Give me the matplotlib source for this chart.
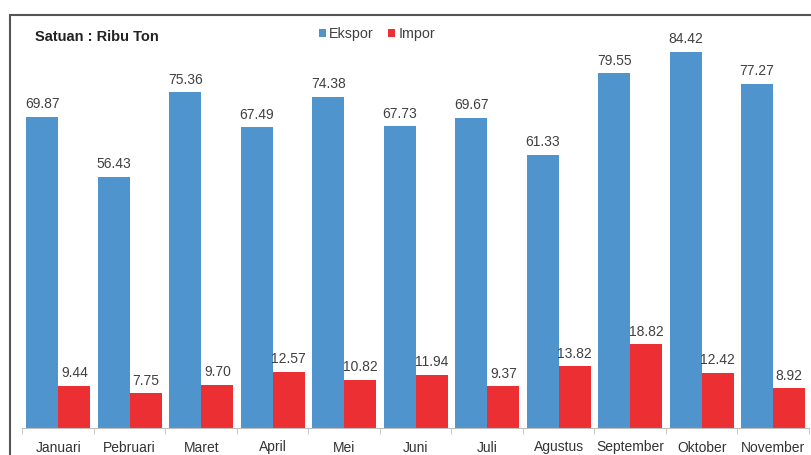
import matplotlib
matplotlib.use("Agg")
import matplotlib.pyplot as plt
import numpy as np
from matplotlib.patches import Rectangle

plt.rcParams["font.family"] = ["Liberation Sans", "DejaVu Sans"]

bulan = ["Januari", "Pebruari", "Maret", "April", "Mei", "Juni", "Juli",
         "Agustus", "September", "Oktober", "November"]
ekspor = [69.87, 56.43, 75.36, 67.49, 74.38, 67.73, 69.67, 61.33, 79.55, 84.42, 77.27]
impor = [9.44, 7.75, 9.70, 12.57, 10.82, 11.94, 9.37, 13.82, 18.82, 12.42, 8.92]

BLUE = "#4F94CD"
RED = "#EB2F33"

fig = plt.figure(figsize=(8.12, 4.55), dpi=100)
ax = fig.add_axes([22.5 / 812, 27 / 455, (809 - 22.5) / 812, 410 / 455])

x = np.arange(len(bulan))
w = 0.45
b1 = ax.bar(x - w / 2, ekspor, w, color=BLUE, label="Ekspor")
b2 = ax.bar(x + w / 2, impor, w, color=RED, label="Impor")

for bars, vals in ((b1, ekspor), (b2, impor)):
    for r, v in zip(bars, vals):
        ax.annotate(f"{v:.2f}", (r.get_x() + r.get_width() / 2, v),
                    xytext=(0, 4), textcoords="offset points",
                    ha="center", va="bottom", fontsize=10, color="#404040")

ax.set_xlim(-0.5, len(bulan) - 0.5)
ax.set_ylim(0, 92)
ax.set_yticks([])
ax.set_xticks(x)
ax.set_xticklabels(bulan, fontsize=10, color="#333333")
ax.tick_params(axis="x", which="major", length=0, pad=9)
ax.set_xticks(np.arange(-0.5, len(bulan), 1), minor=True)
ax.tick_params(axis="x", which="minor", length=4, color="#bfbfbf")
for s in ("top", "right", "left"):
    ax.spines[s].set_visible(False)
ax.spines["bottom"].set_color("#bfbfbf")
ax.patch.set_alpha(0)

# outer frame of the chart (cut off at right and bottom)
fig.patches.append(Rectangle((10 / 812, -0.05), 1.1, (455 - 15) / 455 + 0.05,
                             transform=fig.transFigure, fill=False,
                             edgecolor="#555555", linewidth=1.5))

fig.text(35 / 812, 1 - 37 / 455, "Satuan : Ribu Ton", fontsize=10.5,
         fontweight="bold", color="#222222", va="center", ha="left")

fig.legend(handles=[b1, b2], loc="center", bbox_to_anchor=(377 / 812, 1 - 34 / 455),
           ncol=2, frameon=False, fontsize=10.3, handlelength=0.45, handleheight=0.45,
           handletextpad=0.25, columnspacing=1.0, labelcolor="#404040")

fig.savefig("out.png", dpi=100)
